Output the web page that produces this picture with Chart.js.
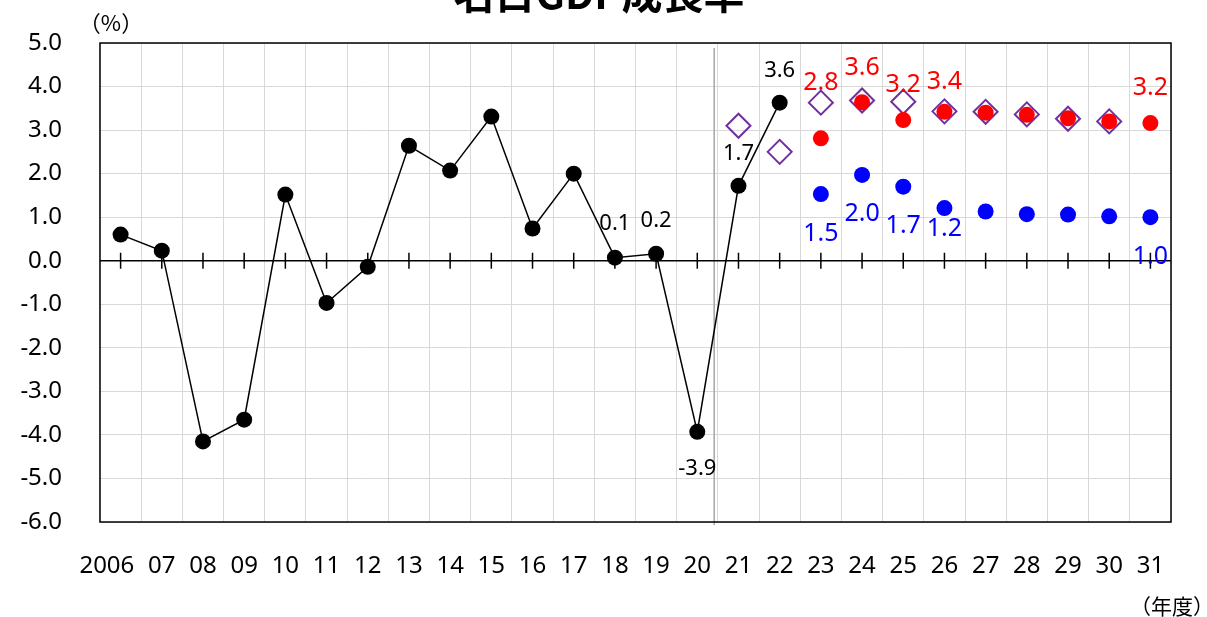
<!DOCTYPE html>
<html>
<head>
<meta charset="utf-8">
<script src="https://cdn.jsdelivr.net/npm/chart.js@4.4.0/dist/chart.umd.min.js"></script>
<style>
  html, body { margin: 0; padding: 0; background: #fff; }
  #wrap { width: 1207px; height: 617px; }
</style>
</head>
<body>
<div id="wrap"><canvas id="gdp-chart" width="1207" height="617"></canvas></div>
<script>
// 年度 (2006 は左寄せ気味に表示されているので後ろに空白)
const years = ['2006\u2007\u2007', '07', '08', '09', '10', '11', '12', '13', '14', '15', '16', '17', '18',
  '19', '20', '21', '22', '23', '24', '25', '26', '27', '28', '29', '30', '31'];

// 実績
const actual = [0.6, 0.23, -4.15, -3.65, 1.52, -0.97, -0.14, 2.64, 2.07, 3.31, 0.74, 2.0, 0.07,
  0.16, -3.93, 1.72, 3.63];

// 前回試算 (◇)
const previous = [null, null, null, null, null, null, null, null, null, null, null, null, null,
  null, null, 3.1, 2.5, 3.63, 3.68, 3.65, 3.43, 3.42, 3.36, 3.26, 3.2, null];

// 成長実現ケース
const growthCase = [null, null, null, null, null, null, null, null, null, null, null, null, null,
  null, null, null, null, 2.81, 3.64, 3.23, 3.42, 3.40, 3.35, 3.27, 3.2, 3.16];

// ベースラインケース
const baseCase = [null, null, null, null, null, null, null, null, null, null, null, null, null,
  null, null, null, null, 1.53, 1.97, 1.70, 1.21, 1.13, 1.07, 1.06, 1.02, 1.0];

const yMin = -6, yMax = 5, yStep = 1;

// どの点に数値ラベルを付けるか (dataset番号, 年度index, 上下のずらし)
const valueLabels = [
  { ds: 0, i: 12, dy: -34 }, { ds: 0, i: 13, dy: -33 }, { ds: 0, i: 14, dy: 37 },
  { ds: 0, i: 15, dy: -32 }, { ds: 0, i: 16, dy: -32 },
  { ds: 2, i: 17, dy: -55 }, { ds: 2, i: 18, dy: -34 }, { ds: 2, i: 19, dy: -35 },
  { ds: 2, i: 20, dy: -30 }, { ds: 2, i: 25, dy: -35 },
  { ds: 3, i: 17, dy: 40 }, { ds: 3, i: 18, dy: 39 }, { ds: 3, i: 19, dy: 39 },
  { ds: 3, i: 20, dy: 21 }, { ds: 3, i: 25, dy: 40 }
];

const FONT = "'Noto Sans', 'Noto Sans CJK JP', sans-serif";
const CJK = "'Noto Sans CJK JP', 'Noto Sans', sans-serif";

const framePlugin = {
  id: 'frame',
  beforeDatasetsDraw(chart) {
    const { ctx, chartArea: a, scales: { x, y } } = chart;
    ctx.save();
    // 2020/2021 の区切り線
    const sx = x.getPixelForValue(14) + 0.41 * (x.getPixelForValue(15) - x.getPixelForValue(14));
    ctx.strokeStyle = '#a6a6a6';
    ctx.lineWidth = 1.5;
    ctx.beginPath();
    ctx.moveTo(sx, a.top + 5);
    ctx.lineTo(sx, a.bottom + 3);
    ctx.stroke();
    // ゼロ線と目盛り
    const y0 = y.getPixelForValue(0);
    ctx.strokeStyle = '#000';
    ctx.lineWidth = 1.5;
    ctx.beginPath();
    ctx.moveTo(a.left, y0);
    ctx.lineTo(a.right, y0);
    for (let i = 0; i < years.length; i++) {
      const px = x.getPixelForValue(i);
      ctx.moveTo(px, y0 - 8);
      ctx.lineTo(px, y0 + 8);
    }
    ctx.stroke();
    // 外枠
    ctx.strokeRect(a.left, a.top, a.right - a.left, a.bottom - a.top);
    ctx.restore();
  },
  afterDraw(chart) {
    const { ctx } = chart;
    ctx.save();
    ctx.textAlign = 'center';
    ctx.textBaseline = 'middle';
    valueLabels.forEach(l => {
      const ds = chart.data.datasets[l.ds];
      const pt = chart.getDatasetMeta(l.ds).data[l.i];
      if (!pt) return;
      ctx.fillStyle = ds.labelColor;
      ctx.font = ds.labelSize + 'px ' + FONT;
      ctx.fillText(ds.data[l.i].toFixed(1), pt.x, pt.y + l.dy);
    });
    // タイトル (上が切れている)
    ctx.fillStyle = '#000';
    ctx.textBaseline = 'alphabetic';
    ctx.font = 'bold 41px ' + CJK;
    ctx.fillText('名目GDP成長率', 599, 9);
    ctx.textBaseline = 'middle';
    ctx.font = '22px ' + CJK;
    ctx.fillText('（%）', 111, 23);
    ctx.font = '21px ' + CJK;
    ctx.fillText('（年度）', 1172, 606);
    ctx.restore();
  }
};

new Chart(document.getElementById('gdp-chart'), {
  type: 'line',
  data: {
    labels: years,
    datasets: [
      {
        label: '実績',
        data: actual,
        borderColor: '#000',
        borderWidth: 1.5,
        backgroundColor: '#000',
        pointRadius: 8,
        pointBorderWidth: 0,
        tension: 0,
        labelColor: '#000',
        labelSize: 22,
        order: 0
      },
      {
        label: '前回試算',
        data: previous,
        showLine: false,
        pointStyle: 'rectRot',
        pointRadius: 12,
        pointBorderWidth: 2,
        pointBorderColor: '#7030a0',
        pointBackgroundColor: 'rgba(0,0,0,0)',
        labelColor: '#7030a0',
        labelSize: 25,
        order: 2
      },
      {
        label: '成長実現ケース',
        data: growthCase,
        showLine: false,
        pointRadius: 8,
        pointBorderWidth: 0,
        pointBackgroundColor: '#ff0000',
        labelColor: '#ff0000',
        labelSize: 25,
        order: 1
      },
      {
        label: 'ベースラインケース',
        data: baseCase,
        showLine: false,
        pointRadius: 8,
        pointBorderWidth: 0,
        pointBackgroundColor: '#0000ff',
        labelColor: '#0000ff',
        labelSize: 25,
        order: 1
      }
    ]
  },
  options: {
    responsive: false,
    animation: false,
    devicePixelRatio: 1,
    layout: { padding: { left: 0, right: 36, top: 43, bottom: 0 } },
    plugins: {
      legend: { display: false },
      tooltip: { enabled: false },
      title: { display: false }
    },
    scales: {
      x: {
        offset: true,
        grid: { offset: true, color: '#d9d9d9', lineWidth: 1, drawTicks: false },
        border: { display: false },
        ticks: {
          autoSkip: false,
          maxRotation: 0,
          color: '#000',
          padding: 30,
          font: { size: 24, family: FONT }
        },
        afterFit(scale) {
          scale.height = 95;
          scale.paddingLeft = 0;
          scale.paddingRight = 0;
        }
      },
      y: {
        min: yMin,
        max: yMax,
        grid: { color: '#d9d9d9', lineWidth: 1, drawTicks: false },
        border: { display: false },
        ticks: {
          stepSize: yStep,
          color: '#000',
          padding: 38,
          font: { size: 24, family: FONT },
          callback: v => v.toFixed(1)
        },
        afterFit(scale) {
          scale.width = 100;
          scale.paddingTop = 0;
          scale.paddingBottom = 0;
        }
      }
    }
  },
  plugins: [framePlugin]
});
</script>
</body>
</html>
